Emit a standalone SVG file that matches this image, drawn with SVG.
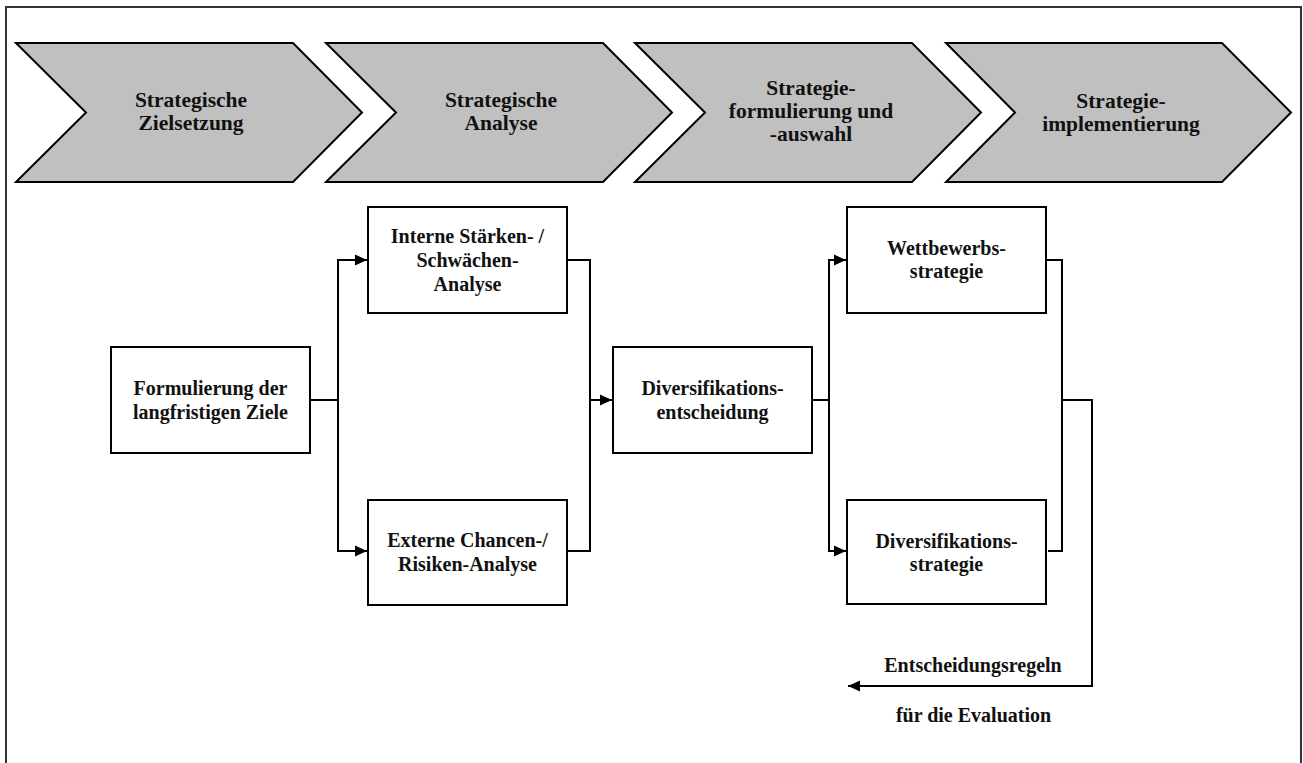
<svg xmlns="http://www.w3.org/2000/svg" width="1303" height="763" viewBox="0 0 1303 763">
<style>
.frame{fill:none;stroke:#333;stroke-width:2}
.chev{fill:#c0c0c0;stroke:#000;stroke-width:2;stroke-linejoin:miter}
.box{fill:#fff;stroke:#000;stroke-width:2}
.ct{font-family:"Liberation Serif","Times New Roman",serif;font-weight:bold;font-size:21.5px;text-anchor:middle;fill:#111}
.bt{font-family:"Liberation Serif","Times New Roman",serif;font-weight:bold;font-size:20px;text-anchor:middle;fill:#111}
.ln{fill:none;stroke:#000;stroke-width:2}
</style>
<defs>
<marker id="arr" markerUnits="userSpaceOnUse" markerWidth="13" markerHeight="13" viewBox="0 0 13 13" refX="12" refY="6.5" orient="auto">
<path d="M0,1 L12,6.5 L0,12 Z" fill="#000"/>
</marker>
</defs>
<rect width="1303" height="763" fill="#fff"/>
<path class="frame" d="M6,763 V7 H1301 V763"/>

<g id="phase1">
<polygon class="chev" points="16,43 293,43 362,112.5 293,182 16,182 86,112.5"/>
<text class="ct" x="191" y="107">Strategische</text>
<text class="ct" x="191" y="130">Zielsetzung</text>
</g>
<g id="phase2">
<polygon class="chev" points="326,43 603,43 672,112.5 603,182 326,182 396,112.5"/>
<text class="ct" x="501" y="107">Strategische</text>
<text class="ct" x="501" y="130">Analyse</text>
</g>
<g id="phase3">
<polygon class="chev" points="635,43 912,43 981,112.5 912,182 635,182 705,112.5"/>
<text class="ct" x="811" y="95">Strategie-</text>
<text class="ct" x="811" y="118">formulierung und</text>
<text class="ct" x="811" y="141">-auswahl</text>
</g>
<g id="phase4">
<polygon class="chev" points="946,43 1222,43 1291,112.5 1222,182 946,182 1015,112.5"/>
<text class="ct" x="1121" y="108">Strategie-</text>
<text class="ct" x="1121" y="131">implementierung</text>
</g>

<g id="ziele">
<rect class="box" x="111" y="347" width="199" height="106"/>
<text class="bt" x="210.5" y="395">Formulierung der</text>
<text class="bt" x="210.5" y="419">langfristigen Ziele</text>
</g>
<g id="intern">
<rect class="box" x="368" y="207" width="199" height="106"/>
<text class="bt" x="467.5" y="243">Interne Stärken- /</text>
<text class="bt" x="467.5" y="267">Schwächen-</text>
<text class="bt" x="467.5" y="291">Analyse</text>
</g>
<g id="extern">
<rect class="box" x="368" y="500" width="199" height="105"/>
<text class="bt" x="467.5" y="547">Externe Chancen-/</text>
<text class="bt" x="467.5" y="571">Risiken-Analyse</text>
</g>
<g id="divent">
<rect class="box" x="613" y="347" width="199" height="106"/>
<text class="bt" x="712.5" y="395">Diversifikations-</text>
<text class="bt" x="712.5" y="419">entscheidung</text>
</g>
<g id="wettbewerb">
<rect class="box" x="847" y="207" width="199" height="106"/>
<text class="bt" x="946.5" y="255">Wettbewerbs-</text>
<text class="bt" x="946.5" y="278">strategie</text>
</g>
<g id="divstrat">
<rect class="box" x="847" y="500" width="199" height="104"/>
<text class="bt" x="946.5" y="548">Diversifikations-</text>
<text class="bt" x="946.5" y="571">strategie</text>
</g>

<g id="connectors">
<path class="ln" d="M310,400 H338"/>
<path class="ln" d="M338,400 V260 H367" marker-end="url(#arr)"/>
<path class="ln" d="M338,400 V551 H367" marker-end="url(#arr)"/>
<path class="ln" d="M567,260 H590 V551 H567"/>
<path class="ln" d="M590,400 H612" marker-end="url(#arr)"/>
<path class="ln" d="M812,400 H829"/>
<path class="ln" d="M829,400 V260 H846" marker-end="url(#arr)"/>
<path class="ln" d="M829,400 V551 H846" marker-end="url(#arr)"/>
<path class="ln" d="M1046,260 H1062 V551 H1048"/>
<path class="ln" d="M1063,400 H1092 V686 H848" marker-end="url(#arr)"/>
<text class="bt" x="973" y="672">Entscheidungsregeln</text>
<text class="bt" x="973.5" y="722">für die Evaluation</text>
</g>
</svg>
